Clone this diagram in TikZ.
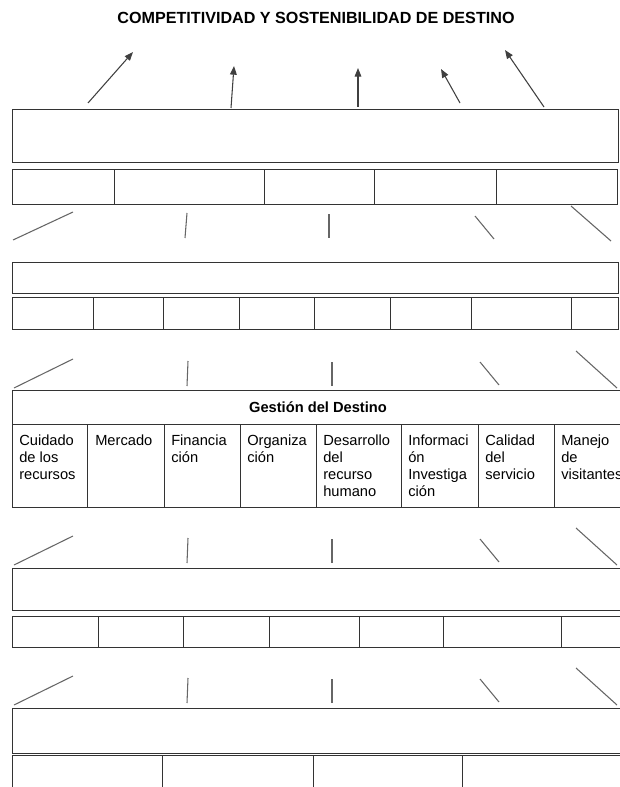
\documentclass[tikz,border=0pt]{standalone}
\usepackage{fontspec}
\setmainfont{Liberation Sans}
\usetikzlibrary{arrows.meta}
\tikzset{
  layerbox/.style={draw=black!80, line width=0.75pt},
  fanline/.style={draw=black!60, line width=0.8pt},
  uparrow/.style={draw=black!75, line width=0.8pt, -{Triangle[length=6.5pt,width=5pt]}},
  celltext/.style={anchor=north west, inner sep=0pt, align=left, font=\fontsize{11}{12.75}\selectfont},
}

\begin{document}
\begin{tikzpicture}[x=0.75pt,y=-0.75pt]
  \useasboundingbox (0,0) rectangle (619,787);
  \node[font=\fontsize{12.1}{14}\selectfont\bfseries] (title) at (316,17.5) {COMPETITIVIDAD Y SOSTENIBILIDAD DE DESTINO};
  % arrows up to the title
  \foreach \xa/\ya/\xb/\yb in {88/103/133/52, 231/108/234/66, 358/107/358/68, 460/103/441/69, 544/107/505/50}
    \draw[uparrow] (\xa,\ya) -- (\xb,\yb);
  % first level
  \draw[layerbox] (12,110) rectangle (618,163);
  \draw[layerbox] (12,170) rectangle (617,205);
  \foreach \x in {114,264,374,496} \draw[layerbox] (\x,170) -- (\x,205);
  \foreach \xa/\ya/\xb/\yb in {13/240/73/212, 185/238/187/213, 329/238/329/214, 494/239/475/216, 611/241/571/206}
    \draw[fanline] (\xa,\ya) -- (\xb,\yb);
  % second level
  \draw[layerbox] (12,263) rectangle (618,294);
  \draw[layerbox] (12,298) rectangle (618,329);
  \foreach \x in {93,163,239,314,390,471,571} \draw[layerbox] (\x,298) -- (\x,329);
  % fan lines under the other levels
  \foreach \y in {388,565,705}
    \foreach \xa/\da/\xb/\db in {14/0/73/-29, 187/-2/188/-27, 332/-2/332/-26, 499/-3/480/-26, 617/0/576/-37}
      \draw[fanline] (\xa,{\y+\da}) -- (\xb,{\y+\db});
  % destination management
  \draw[layerbox] (12,390) rectangle (624,424);
  \draw[layerbox] (12,424) rectangle (624,507);
  \foreach \x in {87,164,240,316,401,478,554} \draw[layerbox] (\x,424) -- (\x,507);
  \node[anchor=base, inner sep=0pt, font=\fontsize{11}{13}\selectfont\bfseries] (gestion) at (318,412) {Gestión del Destino};
  \foreach \x/\t [count=\i] in {19/{Cuidado\\de los\\recursos}, 95/{Mercado}, 171/{Financia\\ción}, 247/{Organiza\\ción},
      323/{Desarrollo\\del\\recurso\\humano}, 408/{Informaci\\ón\\Investiga\\ción}, 485/{Calidad\\del\\servicio}, 561/{Manejo\\de\\visitantes}}
    \node[celltext] (cell\i) at (\x,435) {\t};
  % third level
  \draw[layerbox] (12,568) rectangle (624,610);
  \draw[layerbox] (12,616) rectangle (624,647);
  \foreach \x in {98,183,269,359,443,561} \draw[layerbox] (\x,616) -- (\x,647);
  % fourth level
  \draw[layerbox] (12,708) rectangle (624,753);
  \draw[layerbox] (12,755) rectangle (624,800);
  \foreach \x in {162,313,462} \draw[layerbox] (\x,755) -- (\x,800);
\end{tikzpicture}
\end{document}
